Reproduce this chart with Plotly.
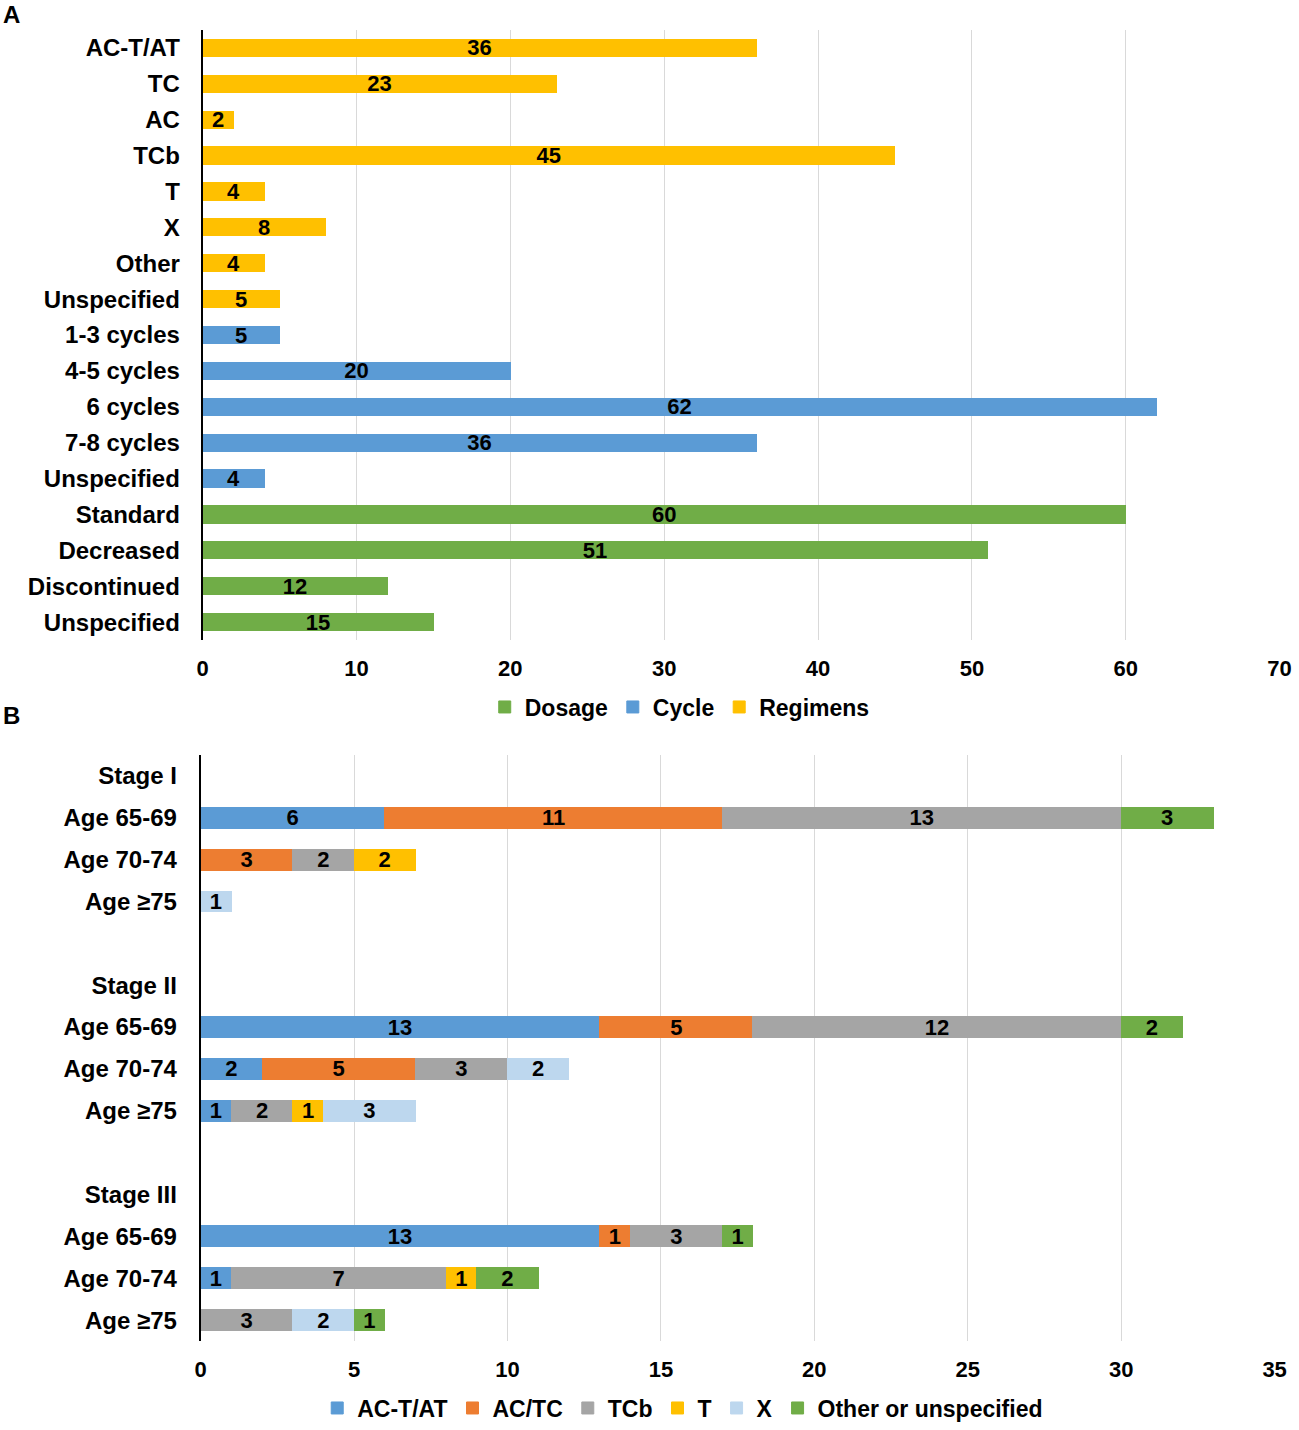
import plotly.graph_objects as go

# ---- Panel A data ----
regimen_labels = ["AC-T/AT", "TC", "AC", "TCb", "T", "X", "Other", "Unspecified"]
regimen_values = [36, 23, 2, 45, 4, 8, 4, 5]
cycle_labels = ["1-3 cycles", "4-5 cycles", "6 cycles", "7-8 cycles", "Unspecified"]
cycle_values = [5, 20, 62, 36, 4]
dosage_labels = ["Standard", "Decreased", "Discontinued", "Unspecified"]
dosage_values = [60, 51, 12, 15]

# ---- Panel B data ----
row_labels = ["Stage I", "Age 65-69", "Age 70-74", "Age ≥75", "",
              "Stage II", "Age 65-69", "Age 70-74", "Age ≥75", "",
              "Stage III", "Age 65-69", "Age 70-74", "Age ≥75"]
act_at = [None, 6, None, None, None, None, 13, 2, 1, None, None, 13, 1, None]
ac_tc = [None, 11, 3, None, None, None, 5, 5, None, None, None, 1, None, None]
tcb = [None, 13, 2, None, None, None, 12, 3, 2, None, None, 3, 7, 3]
t_reg = [None, None, 2, None, None, None, None, None, 1, None, None, None, 1, None]
x_reg = [None, None, None, 1, None, None, None, 2, 3, None, None, None, None, 2]
other = [None, 3, None, None, None, None, 2, None, None, None, None, 1, 2, 1]

FONT = "Liberation Sans"
C_YEL = "#FFC000"
C_BLUE = "#5B9BD5"
C_GREEN = "#70AD47"
C_ORANGE = "#ED7D31"
C_GRAY = "#A5A5A5"
C_LBLUE = "#BDD7EE"
GRID = "#D9D9D9"

W, H = 1299, 1430
XS = 0.988  # horizontal scale observed in the photographed page
def px_x(px):
    return ((px - 2) / XS) / W
def px_y(py):
    return 1 - py / H

fig = go.Figure()

all_a = regimen_labels + cycle_labels + dosage_labels
n_reg, n_cyc = len(regimen_labels), len(cycle_labels)
pos_reg = list(range(0, n_reg))
pos_cyc = list(range(n_reg, n_reg + n_cyc))
pos_dos = list(range(n_reg + n_cyc, len(all_a)))

bar_text_font = dict(family=FONT, size=22, color="black", weight="bold")

def bar_a(name, vals, pos, color):
    return go.Bar(
        name=name, x=vals, y=pos, orientation="h", width=0.48,
        marker=dict(color=color, line=dict(color=color, width=1)),
        text=vals, textposition="inside", insidetextanchor="middle",
        constraintext="none", textangle=0,
        textfont=bar_text_font,
        xaxis="x", yaxis="y", legend="legend", hoverinfo="x+name",
    )

fig.add_trace(bar_a("Dosage", dosage_values, pos_dos, C_GREEN))
fig.add_trace(bar_a("Cycle", cycle_values, pos_cyc, C_BLUE))
fig.add_trace(bar_a("Regimens", regimen_values, pos_reg, C_YEL))

pos_b = list(range(len(row_labels)))
series_b = [("AC-T/AT", act_at, C_BLUE), ("AC/TC", ac_tc, C_ORANGE),
            ("TCb", tcb, C_GRAY), ("T", t_reg, C_YEL),
            ("X", x_reg, C_LBLUE), ("Other or unspecified", other, C_GREEN)]
for name, vals, color in series_b:
    fig.add_trace(go.Bar(
        name=name, x=vals, y=pos_b, orientation="h", width=0.5,
        marker=dict(color=color, line=dict(color=color, width=1)),
        text=[("" if v is None else v) for v in vals],
        textposition="inside", insidetextanchor="middle",
        constraintext="none", textangle=0,
        textfont=bar_text_font,
        xaxis="x2", yaxis="y2", legend="legend2", hoverinfo="x+name",
    ))

ytick_font = dict(family=FONT, size=24, color="black", weight="bold")
xtick_font = dict(family=FONT, size=22, color="black", weight="bold")
legend_font = dict(family=FONT, size=23, color="black", weight="bold")

fig.update_layout(
    width=W, height=H,
    margin=dict(l=0, r=0, t=0, b=0),
    paper_bgcolor="white", plot_bgcolor="white",
    barmode="stack",
    font=dict(family=FONT, color="black"),
    showlegend=True,
    xaxis=dict(domain=[px_x(199), px_x(1278)], anchor="y", range=[0, 70],
               dtick=10, showgrid=True, gridcolor=GRID, gridwidth=1,
               zeroline=False, showline=False, tickfont=xtick_font,
               ticks="outside", ticklen=8, tickcolor="rgba(0,0,0,0)"),
    yaxis=dict(domain=[px_y(641), px_y(30)], anchor="x",
               range=[len(all_a) - 0.5, -0.5],
               tickmode="array", tickvals=list(range(len(all_a))), ticktext=all_a,
               showgrid=False, zeroline=False, showline=True, linecolor="black",
               linewidth=2, tickfont=ytick_font, ticks="outside", ticklen=16,
               tickcolor="rgba(0,0,0,0)"),
    xaxis2=dict(domain=[px_x(197), px_x(1273)], anchor="y2", range=[0, 35],
                dtick=5, showgrid=True, gridcolor=GRID, gridwidth=1,
                zeroline=False, showline=False, tickfont=xtick_font,
                ticks="outside", ticklen=8, tickcolor="rgba(0,0,0,0)"),
    yaxis2=dict(domain=[px_y(1343), px_y(756)], anchor="x2",
                range=[len(row_labels) - 0.5, -0.5],
                tickmode="array", tickvals=pos_b, ticktext=row_labels,
                showgrid=False, zeroline=False, showline=True, linecolor="black",
                linewidth=2, tickfont=ytick_font, ticks="outside", ticklen=17,
                tickcolor="rgba(0,0,0,0)"),
    legend=dict(orientation="h", x=px_x(677), xanchor="center", y=px_y(708),
                yanchor="middle", traceorder="normal", font=legend_font,
                itemwidth=30, bgcolor="rgba(0,0,0,0)"),
    legend2=dict(orientation="h", x=px_x(680), xanchor="center", y=px_y(1410),
                 yanchor="middle", traceorder="normal", font=legend_font,
                 itemwidth=30, bgcolor="rgba(0,0,0,0)"),
    annotations=[
        dict(text="A", x=px_x(8), y=px_y(15), xref="paper", yref="paper",
             xanchor="center", yanchor="middle", showarrow=False,
             font=dict(family=FONT, size=24, color="black", weight="bold")),
        dict(text="B", x=px_x(8), y=px_y(717), xref="paper", yref="paper",
             xanchor="center", yanchor="middle", showarrow=False,
             font=dict(family=FONT, size=24, color="black", weight="bold")),
    ],
)

# remove the page's default body margin so the figure fills the window exactly
fig.write_html(
    "out.html",
    config={"displayModeBar": False},
    post_script="document.body.style.margin='0';document.body.style.overflow='hidden';",
)
